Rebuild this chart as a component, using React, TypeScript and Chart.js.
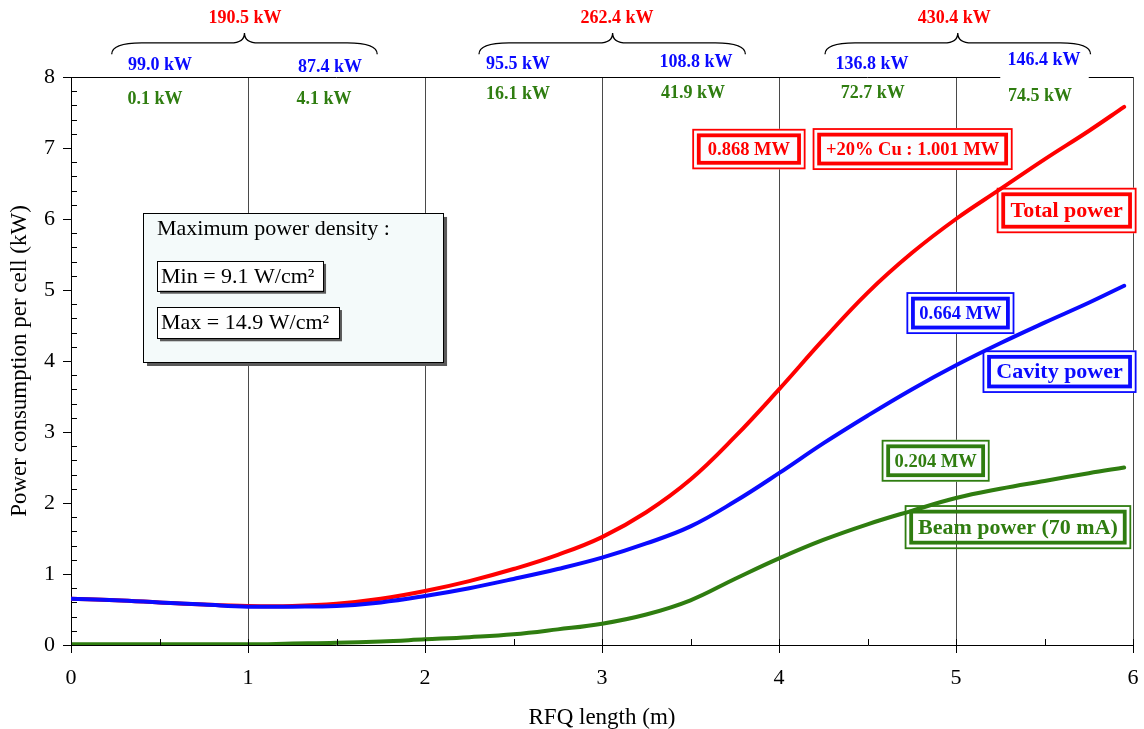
import React, { useEffect, useRef } from 'react';
import { Chart, registerables } from 'chart.js';

Chart.register(...registerables);

// ---------- data ----------
const lengths = [0, 0.25, 0.5, 0.75, 1, 1.25, 1.5, 1.75, 2, 2.25, 2.5, 2.75, 3, 3.25, 3.5, 3.75, 4, 4.25, 4.5, 4.75, 5, 5.25, 5.5, 5.75, 5.95];
const totalPower = [0.65, 0.63, 0.6, 0.57, 0.55, 0.55, 0.58, 0.65, 0.76, 0.9, 1.07, 1.27, 1.52, 1.87, 2.33, 2.93, 3.6, 4.3, 4.96, 5.52, 6.0, 6.42, 6.84, 7.24, 7.58];
const cavityPower = [0.65, 0.63, 0.6, 0.57, 0.54, 0.54, 0.55, 0.6, 0.69, 0.8, 0.93, 1.07, 1.23, 1.43, 1.67, 2.02, 2.42, 2.84, 3.23, 3.6, 3.94, 4.25, 4.54, 4.82, 5.06];
const beamPower = [0.01, 0.01, 0.01, 0.01, 0.01, 0.02, 0.03, 0.05, 0.08, 0.11, 0.15, 0.22, 0.3, 0.43, 0.63, 0.93, 1.22, 1.48, 1.7, 1.89, 2.07, 2.2, 2.31, 2.42, 2.5];

const xTickValues = [0, 1, 2, 3, 4, 5, 6];
const yTickValues = [0, 1, 2, 3, 4, 5, 6, 7, 8];

const segmentTotals = ['190.5 kW', '262.4 kW', '430.4 kW'];
const cellCavity = ['99.0 kW', '87.4 kW', '95.5 kW', '108.8 kW', '136.8 kW', '146.4 kW'];
const cellBeam = ['0.1 kW', '4.1 kW', '16.1 kW', '41.9 kW', '72.7 kW', '74.5 kW'];

const RED = '#ff0000';
const BLUE = '#0a0aff';
const GREEN = '#2f7d10';
const FAMILY = '"Liberation Serif", "Times New Roman", serif';
const font = (size: number, bold = false) => `${bold ? 'bold ' : ''}${size}px ${FAMILY}`;

// ---------- annotation layout (data units: x in m, y in kW) ----------
const totalPos = [{ x: 0.983, y: 8.83 }, { x: 3.085, y: 8.83 }, { x: 4.99, y: 8.83 }];
const bracePos = [
  { l: 0.23, m: 0.98, r: 1.73 },
  { l: 2.305, m: 3.06, r: 3.81 },
  { l: 4.26, m: 5.01, r: 5.76 },
];
const cavityPos = [
  { x: 0.503, y: 8.17 }, { x: 1.463, y: 8.14 }, { x: 2.525, y: 8.18 },
  { x: 3.531, y: 8.21 }, { x: 4.525, y: 8.18 }, { x: 5.497, y: 8.23 },
];
const beamPos = [
  { x: 0.475, y: 7.69 }, { x: 1.43, y: 7.69 }, { x: 2.525, y: 7.75 },
  { x: 3.514, y: 7.77 }, { x: 4.53, y: 7.77 }, { x: 5.475, y: 7.73 },
];

const framed = [
  { text: '0.868 MW', color: RED, size: 18.5, x1: 3.51, x2: 4.15, y1: 7.27, y2: 6.7, fill: true },
  { text: '+20% Cu : 1.001 MW', color: RED, size: 18.5, x1: 4.19, x2: 5.32, y1: 7.28, y2: 6.69, fill: true },
  { text: 'Total power', color: RED, size: 22, x1: 5.23, x2: 6.02, y1: 6.44, y2: 5.8, fill: true },
  { text: '0.664 MW', color: BLUE, size: 18.5, x1: 4.72, x2: 5.33, y1: 4.97, y2: 4.38, fill: true },
  { text: 'Cavity power', color: BLUE, size: 22, x1: 5.15, x2: 6.02, y1: 4.15, y2: 3.55, fill: true },
  { text: '0.204 MW', color: GREEN, size: 18.5, x1: 4.58, x2: 5.19, y1: 2.89, y2: 2.3, fill: true },
  { text: 'Beam power (70 mA)', color: GREEN, size: 22, x1: 4.71, x2: 5.99, y1: 1.97, y2: 1.35, fill: false },
];

const densityTitle = 'Maximum power density :';
const densityMin = 'Min = 9.1 W/cm²';
const densityMax = 'Max = 14.9 W/cm²';

function drawFramed(ctx: CanvasRenderingContext2D, x1: number, y1: number, x2: number, y2: number, color: string, text: string, size: number, fill: boolean) {
  const w = x2 - x1;
  const h = y2 - y1;
  ctx.save();
  if (fill) {
    ctx.fillStyle = '#fbfdff';
    ctx.fillRect(x1, y1, w, h);
  }
  ctx.strokeStyle = color;
  ctx.lineWidth = 1.8;
  ctx.strokeRect(x1 + 0.9, y1 + 0.9, w - 1.8, h - 1.8);
  ctx.lineWidth = 3.8;
  ctx.strokeRect(x1 + 6.5, y1 + 6.5, w - 13, h - 13);
  ctx.fillStyle = color;
  ctx.font = font(size, true);
  ctx.textAlign = 'center';
  ctx.textBaseline = 'middle';
  ctx.fillText(text, (x1 + x2) / 2, (y1 + y2) / 2 + 1);
  ctx.restore();
}

function shadowBox(ctx: CanvasRenderingContext2D, x1: number, y1: number, x2: number, y2: number, fillColor: string, off: number) {
  ctx.fillStyle = '#5a5a5a';
  ctx.fillRect(x1 + off, y1 + off, x2 - x1, y2 - y1);
  ctx.fillStyle = fillColor;
  ctx.fillRect(x1, y1, x2 - x1, y2 - y1);
  ctx.strokeStyle = '#000';
  ctx.lineWidth = 1;
  ctx.strokeRect(Math.round(x1) + 0.5, Math.round(y1) + 0.5, Math.round(x2 - x1), Math.round(y2 - y1));
}

const decorPlugin = {
  id: 'decor',
  beforeDatasetsDraw(chart: any) {
    const ctx: CanvasRenderingContext2D = chart.ctx;
    const xs = chart.scales.x;
    const ys = chart.scales.y;
    const X = (v: number) => xs.getPixelForValue(v);
    const Y = (v: number) => ys.getPixelForValue(v);
    ctx.save();
    // density info box
    shadowBox(ctx, X(0.407), Y(6.085), X(2.102), Y(3.986), '#f4fafa', 4);
    ctx.fillStyle = '#000';
    ctx.font = font(22);
    ctx.textAlign = 'left';
    ctx.textBaseline = 'middle';
    ctx.fillText(densityTitle, X(0.486), Y(5.86));
    shadowBox(ctx, X(0.486), Y(5.41), X(1.424), Y(4.99), '#ffffff', 3);
    shadowBox(ctx, X(0.486), Y(4.76), X(1.514), Y(4.32), '#ffffff', 3);
    ctx.fillStyle = '#000';
    ctx.font = font(22);
    ctx.fillText(densityMin, X(0.486) + 4, (Y(5.41) + Y(4.99)) / 2 + 1);
    ctx.fillText(densityMax, X(0.486) + 4, (Y(4.76) + Y(4.32)) / 2 + 1);
    for (const b of framed) {
      drawFramed(ctx, X(b.x1), Y(b.y1), X(b.x2), Y(b.y2), b.color, b.text, b.size, b.fill);
    }
    ctx.restore();
  },
  afterDraw(chart: any) {
    const ctx: CanvasRenderingContext2D = chart.ctx;
    const xs = chart.scales.x;
    const ys = chart.scales.y;
    const { left, right, top, bottom } = chart.chartArea;
    const X = (v: number) => xs.getPixelForValue(v);
    const Y = (v: number) => ys.getPixelForValue(v);
    ctx.save();
    ctx.strokeStyle = '#000';
    ctx.lineWidth = 1;
    // top border
    ctx.beginPath();
    ctx.moveTo(left, top + 0.5);
    ctx.lineTo(right, top + 0.5);
    ctx.stroke();
    // x ticks
    ctx.beginPath();
    for (let i = 0; i < xTickValues.length; i++) {
      const px = Math.round(X(xTickValues[i])) + 0.5;
      ctx.moveTo(px, bottom - 6);
      ctx.lineTo(px, bottom + 8);
      if (i < xTickValues.length - 1) {
        const mx = Math.round(X((xTickValues[i] + xTickValues[i + 1]) / 2)) + 0.5;
        ctx.moveTo(mx, bottom - 6);
        ctx.lineTo(mx, bottom);
      }
    }
    // y ticks
    for (let i = 0; i < yTickValues.length; i++) {
      const py = Math.round(Y(yTickValues[i])) + 0.5;
      ctx.moveTo(left - 8, py);
      ctx.lineTo(left, py);
      if (i < yTickValues.length - 1) {
        for (let k = 1; k < 5; k++) {
          const my = Math.round(Y(yTickValues[i] + k * 0.2)) + 0.5;
          ctx.moveTo(left, my);
          ctx.lineTo(left + 6, my);
        }
      }
    }
    ctx.stroke();

    // white background behind last cavity label
    ctx.fillStyle = '#ffffff';
    ctx.fillRect(X(5.25), Y(8.36), X(5.75) - X(5.25), Y(7.96) - Y(8.36));

    // braces
    ctx.lineWidth = 1.3;
    for (const b of bracePos) {
      const xl = X(b.l), xm = X(b.m), xr = X(b.r);
      const yEnd = Y(8.32), yMid = Y(8.48), yPeak = Y(8.62);
      ctx.beginPath();
      ctx.moveTo(xl, yEnd);
      ctx.quadraticCurveTo(xl, yMid, xl + 30, yMid);
      ctx.lineTo(xm - 14, yMid);
      ctx.quadraticCurveTo(xm, yMid, xm, yPeak);
      ctx.quadraticCurveTo(xm, yMid, xm + 14, yMid);
      ctx.lineTo(xr - 30, yMid);
      ctx.quadraticCurveTo(xr, yMid, xr, yEnd);
      ctx.stroke();
    }

    ctx.textAlign = 'center';
    ctx.textBaseline = 'middle';
    ctx.font = font(18, true);
    ctx.fillStyle = RED;
    segmentTotals.forEach((t, i) => ctx.fillText(t, X(totalPos[i].x), Y(totalPos[i].y)));
    ctx.fillStyle = BLUE;
    cellCavity.forEach((t, i) => ctx.fillText(t, X(cavityPos[i].x), Y(cavityPos[i].y)));
    ctx.fillStyle = GREEN;
    cellBeam.forEach((t, i) => ctx.fillText(t, X(beamPos[i].x), Y(beamPos[i].y)));
    ctx.restore();
  },
};

export default function App() {
  const canvasRef = useRef<HTMLCanvasElement | null>(null);

  useEffect(() => {
    if (!canvasRef.current) return;
    const mk = (vals: number[]) => lengths.map((x, i) => ({ x, y: vals[i] }));
    const common = {
      pointRadius: 0,
      borderWidth: 4,
      tension: 0.4,
      borderCapStyle: 'round' as const,
      borderJoinStyle: 'round' as const,
      fill: false,
    };
    const chart = new Chart(canvasRef.current, {
      type: 'line',
      data: {
        datasets: [
          { label: 'Beam power (70 mA)', data: mk(beamPower), borderColor: GREEN, ...common },
          { label: 'Cavity power', data: mk(cavityPower), borderColor: BLUE, ...common },
          { label: 'Total power', data: mk(totalPower), borderColor: RED, ...common },
        ],
      },
      options: {
        animation: false,
        responsive: false,
        devicePixelRatio: 1,
        layout: { padding: { top: 77, right: 11, left: 0, bottom: 0 } },
        plugins: { legend: { display: false }, tooltip: { enabled: false } },
        scales: {
          x: {
            type: 'linear',
            min: 0,
            max: 6,
            afterFit: (s: any) => { s.height = 84; s.paddingLeft = 0; s.paddingRight = 0; },
            afterBuildTicks: (s: any) => { s.ticks = xTickValues.map((v) => ({ value: v })); },
            ticks: { padding: 20, color: '#000', font: { family: FAMILY, size: 22 }, maxRotation: 0 },
            grid: { drawTicks: false, color: '#4a4a4a', lineWidth: 1 },
            border: { color: '#000', width: 1 },
            title: { display: true, text: 'RFQ length (m)', color: '#000', font: { family: FAMILY, size: 23, lineHeight: 1 }, padding: { top: 0, bottom: 0 } },
          },
          y: {
            type: 'linear',
            min: 0,
            max: 8,
            afterFit: (s: any) => { s.width = 71; s.paddingTop = 0; s.paddingBottom = 0; },
            afterBuildTicks: (s: any) => { s.ticks = yTickValues.map((v) => ({ value: v })); },
            ticks: { padding: 16, color: '#000', font: { family: FAMILY, size: 22 } },
            grid: { display: false, drawTicks: false },
            border: { color: '#000', width: 1 },
            title: { display: true, text: 'Power consumption per cell (kW)', color: '#000', font: { family: FAMILY, size: 23, lineHeight: 1 }, padding: { top: 8, bottom: 0 } },
          },
        },
      },
      plugins: [decorPlugin],
    } as any);
    return () => chart.destroy();
  }, []);

  return (
    <div style={{ position: 'absolute', left: 0, top: 0, width: 1144, height: 729, background: '#fff' }}>
      <canvas ref={canvasRef} width={1144} height={729} style={{ display: 'block' }} />
    </div>
  );
}
